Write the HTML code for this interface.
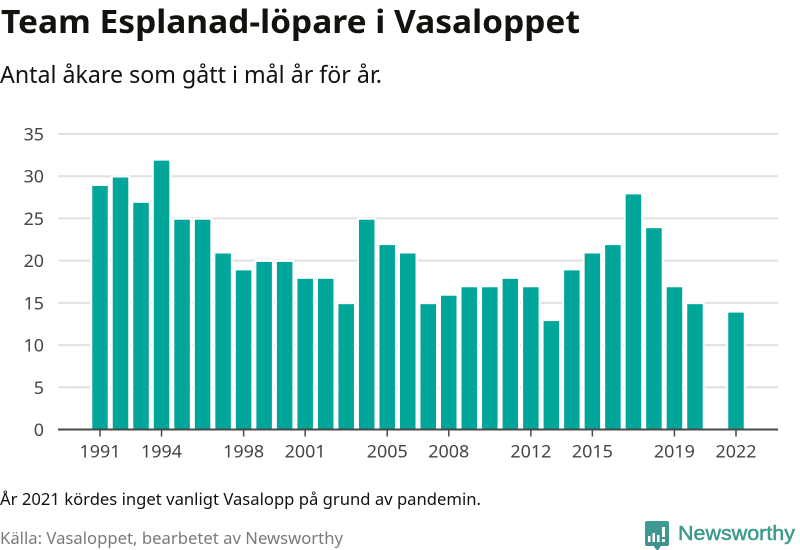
<!DOCTYPE html>
<html lang="sv">
<head>
<meta charset="utf-8">
<title>Team Esplanad-löpare i Vasaloppet</title>
<style>
html,body{margin:0;padding:0;background:#fff;width:800px;height:550px;overflow:hidden}
svg{display:block}
text{font-family:"Noto Sans","DejaVu Sans","Liberation Sans",sans-serif}
</style>
</head>
<body>
<svg id="chart" width="800" height="550" viewBox="0 0 800 550" xmlns="http://www.w3.org/2000/svg">
<text x="1" y="33" font-size="32" font-weight="700" fill="#12120e" textLength="579" lengthAdjust="spacingAndGlyphs">Team Esplanad-löpare i Vasaloppet</text>
<text x="0" y="83" font-size="23.5" fill="#12120e" textLength="382" lengthAdjust="spacingAndGlyphs">Antal åkare som gått i mål år för år.</text>
<g id="grid"></g>
<g id="bars"></g>
<g id="yaxis"></g>
<g id="xaxis"></g>
<text x="0" y="505" font-size="16.5" fill="#12120e" textLength="481" lengthAdjust="spacingAndGlyphs">År 2021 kördes inget vanligt Vasalopp på grund av pandemin.</text>
<text x="0" y="544" font-size="16.5" fill="#7a7a7e" textLength="343" lengthAdjust="spacingAndGlyphs">Källa: Vasaloppet, bearbetet av Newsworthy</text>
<g>
<defs><linearGradient id="lg" x1="0" y1="0" x2="0" y2="1"><stop offset="0" stop-color="#3f9d92"/><stop offset="1" stop-color="#3d8f90"/></linearGradient></defs>
<path d="M647 521h20a2 2 0 0 1 2 2v21a2 2 0 0 1-2 2h-6l-3.500 5-4-5h-6.500a2 2 0 0 1-2-2v-21a2 2 0 0 1 2-2z" fill="url(#lg)"/>
<rect x="648" y="536" width="2.500" height="6" fill="#fff"/>
<rect x="652.500" y="533" width="2.500" height="9" fill="#fff"/>
<rect x="657" y="535" width="2.500" height="7" fill="#fff"/>
<rect x="662" y="527" width="3" height="10" fill="#fff"/>
<rect x="662" y="539" width="3" height="3" fill="#fff"/>
<text x="678" y="540" font-size="20.5" font-weight="500" fill="#3d9a8e" style="font-family:'Liberation Sans',sans-serif" textLength="117" lengthAdjust="spacingAndGlyphs" stroke="#3d9a8e" stroke-width="0.5">Newsworthy</text>
</g>
<script>
const years = [1991,1992,1993,1994,1995,1996,1997,1998,1999,2000,2001,2002,2003,2004,2005,2006,2007,2008,2009,2010,2011,2012,2013,2014,2015,2016,2017,2018,2019,2020,2021,2022];
const values = [29,30,27,32,25,25,21,19,20,20,18,18,15,25,22,21,15,16,17,17,18,17,13,19,21,22,28,24,17,15,null,14];
const yTicks = [0,5,10,15,20,25,30,35];
const xTicks = [1991,1994,1998,2001,2005,2008,2012,2015,2019,2022];

const NS = 'http://www.w3.org/2000/svg';
const plot = {left:58, right:778, bottom:429.5, top:134, x0:100, step:20.516, barW:15.5, barInset:1.3, digitW:10.2};
const xScale = function(y){ return plot.x0 + (y - years[0]) * plot.step; };
const yScale = function(v){ return plot.bottom - (v / yTicks[yTicks.length-1]) * (plot.bottom - plot.top); };
function mk(tag, attrs, parent){
  const el = document.createElementNS(NS, tag);
  for (const k in attrs) el.setAttribute(k, attrs[k]);
  parent.appendChild(el);
  return el;
}
const grid = document.getElementById('grid');
const bars = document.getElementById('bars');
const yaxis = document.getElementById('yaxis');
const xaxis = document.getElementById('xaxis');

yTicks.forEach(function(t){
  const y = yScale(t);
  if (t !== 0) {
    const line = mk('line', {x1:plot.left, x2:plot.right, y1:y, y2:y, stroke:'#e0e0e0', 'stroke-width':2}, grid);
    
    
  }
  const label = mk('text', {x:44, y:y+6.5, 'text-anchor':'end', 'font-size':17.5, fill:'#444', textLength:String(t).length*plot.digitW, lengthAdjust:'spacingAndGlyphs'}, yaxis);
  
  
  label.textContent = t;
});

years.forEach(function(yr, i){
  const v = values[i];
  if (v === null) return;
  const x = xScale(yr) - plot.barW / 2;
  const y = yScale(v) + plot.barInset;
  const h = plot.bottom - y;
  const halo = mk('rect', {x:x, y:y, width:plot.barW, height:h, fill:'#fff', stroke:'#fff', 'stroke-width':4}, bars);
  
  
  const bar = mk('rect', {x:x, y:y, width:plot.barW, height:h, fill:'#00a69a'}, bars);
  
  
});

const axisLine = mk('line', {x1:plot.left, x2:plot.right, y1:plot.bottom, y2:plot.bottom, stroke:'#4a4a4a', 'stroke-width':2}, xaxis);


xTicks.forEach(function(t){
  const x = xScale(t);
  const tick = mk('line', {x1:x, x2:x, y1:plot.bottom, y2:plot.bottom+7, stroke:'#4a4a4a', 'stroke-width':1.5}, xaxis);
  
  
  const label = mk('text', {x:x, y:457.5, 'text-anchor':'middle', 'font-size':17.5, fill:'#444', textLength:41, lengthAdjust:'spacingAndGlyphs'}, xaxis);
  
  
  label.textContent = t;
});
</script>
</svg>
</body>
</html>
